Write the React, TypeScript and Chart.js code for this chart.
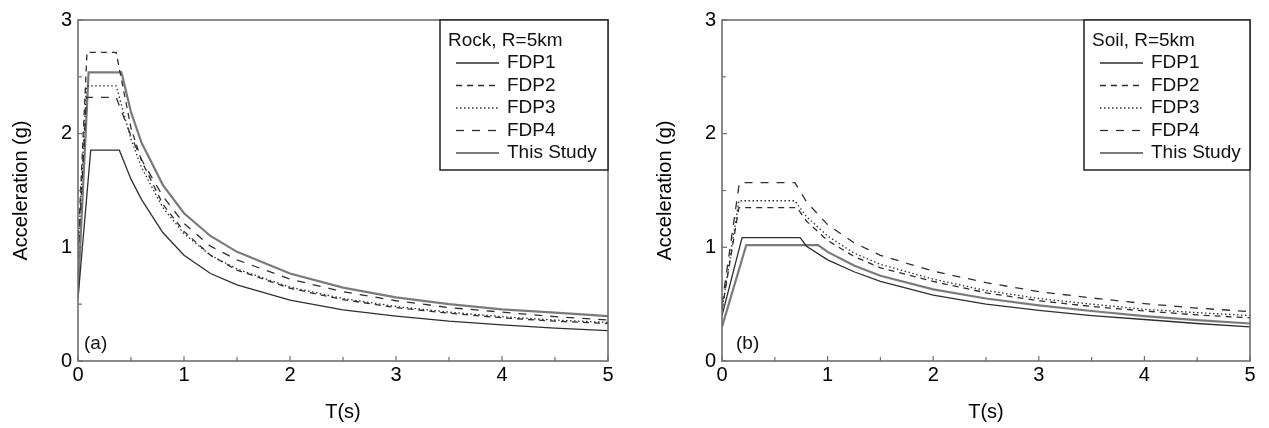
import React, { useEffect, useRef } from "react";
import { Chart, registerables } from "chart.js";

Chart.register(...registerables);

const FONT = "'Liberation Sans', Arial, sans-serif";

// ---------- Data (T in s, spectral acceleration in g) ----------
// Panel (a) Rock, R=5km
const rockFDP1T = [0, 0.12, 0.39, 0.5, 0.6, 0.8, 1, 1.25, 1.5, 2, 2.5, 3, 3.5, 4, 4.5, 5];
const rockFDP1A = [0.55, 1.855, 1.855, 1.6, 1.42, 1.13, 0.93, 0.77, 0.67, 0.535, 0.45, 0.395, 0.35, 0.317, 0.29, 0.267];
const rockFDP2T = [0, 0.085, 0.36, 0.5, 0.6, 0.8, 1, 1.25, 1.5, 2, 2.5, 3, 3.5, 4, 4.5, 5];
const rockFDP2A = [1.0, 2.715, 2.715, 2.05, 1.76, 1.38, 1.14, 0.93, 0.8, 0.64, 0.54, 0.47, 0.42, 0.38, 0.35, 0.33];
const rockFDP3T = [0, 0.08, 0.36, 0.5, 0.6, 0.8, 1, 1.25, 1.5, 2, 2.5, 3, 3.5, 4, 4.5, 5];
const rockFDP3A = [0.95, 2.42, 2.42, 1.95, 1.7, 1.35, 1.12, 0.93, 0.81, 0.65, 0.55, 0.48, 0.43, 0.39, 0.36, 0.34];
const rockFDP4T = [0, 0.08, 0.36, 0.5, 0.6, 0.8, 1, 1.25, 1.5, 2, 2.5, 3, 3.5, 4, 4.5, 5];
const rockFDP4A = [0.9, 2.32, 2.32, 1.98, 1.77, 1.45, 1.21, 1.01, 0.89, 0.72, 0.61, 0.53, 0.47, 0.43, 0.39, 0.36];
const rockStudyT = [0, 0.1, 0.41, 0.5, 0.6, 0.8, 1, 1.25, 1.5, 2, 2.5, 3, 3.5, 4, 4.5, 5];
const rockStudyA = [0.6, 2.54, 2.54, 2.19, 1.92, 1.55, 1.3, 1.1, 0.96, 0.77, 0.645, 0.56, 0.5, 0.455, 0.425, 0.395];

// Panel (b) Soil, R=5km
const soilFDP1T = [0, 0.19, 0.74, 0.8, 1, 1.25, 1.5, 2, 2.5, 3, 3.5, 4, 4.5, 5];
const soilFDP1A = [0.4, 1.085, 1.085, 1.01, 0.89, 0.785, 0.7, 0.58, 0.5, 0.445, 0.4, 0.365, 0.33, 0.3];
const soilFDP2T = [0, 0.16, 0.71, 0.8, 1, 1.25, 1.5, 2, 2.5, 3, 3.5, 4, 4.5, 5];
const soilFDP2A = [0.45, 1.35, 1.35, 1.23, 1.06, 0.92, 0.82, 0.7, 0.6, 0.53, 0.48, 0.44, 0.405, 0.38];
const soilFDP3T = [0, 0.16, 0.69, 0.8, 1, 1.25, 1.5, 2, 2.5, 3, 3.5, 4, 4.5, 5];
const soilFDP3A = [0.45, 1.41, 1.41, 1.27, 1.1, 0.95, 0.85, 0.72, 0.62, 0.55, 0.5, 0.455, 0.425, 0.4];
const soilFDP4T = [0, 0.165, 0.69, 0.8, 1, 1.25, 1.5, 2, 2.5, 3, 3.5, 4, 4.5, 5];
const soilFDP4A = [0.5, 1.57, 1.57, 1.4, 1.2, 1.04, 0.93, 0.79, 0.69, 0.61, 0.555, 0.505, 0.465, 0.435];
const soilStudyT = [0, 0.23, 0.91, 1, 1.25, 1.5, 2, 2.5, 3, 3.5, 4, 4.5, 5];
const soilStudyA = [0.3, 1.02, 1.02, 0.96, 0.84, 0.75, 0.63, 0.55, 0.49, 0.44, 0.395, 0.36, 0.33];

const seriesNames = ["FDP1", "FDP2", "FDP3", "FDP4", "This Study"];
const xTicks = [0, 1, 2, 3, 4, 5];
const yTicks = [0, 1, 2, 3];

// ---------- Styles ----------
const lineColors = ["#2e2e2e", "#2e2e2e", "#2e2e2e", "#2e2e2e", "#7a7a7a"];
const lineWidths = [1.3, 1.3, 1.3, 1.3, 2.2];
const lineDashes: number[][] = [[], [6, 5], [1.5, 2.5], [8, 8], []];

type Series = { t: number[]; a: number[] };

const rockSeries: Series[] = [
  { t: rockFDP1T, a: rockFDP1A },
  { t: rockFDP2T, a: rockFDP2A },
  { t: rockFDP3T, a: rockFDP3A },
  { t: rockFDP4T, a: rockFDP4A },
  { t: rockStudyT, a: rockStudyA },
];
const soilSeries: Series[] = [
  { t: soilFDP1T, a: soilFDP1A },
  { t: soilFDP2T, a: soilFDP2A },
  { t: soilFDP3T, a: soilFDP3A },
  { t: soilFDP4T, a: soilFDP4A },
  { t: soilStudyT, a: soilStudyA },
];

type PanelProps = {
  left: number;
  width: number;
  padRight: number;
  legendTitle: string;
  tag: string;
  tagOffset: number;
  series: Series[];
};

function makeDecor(p: PanelProps) {
  return {
    id: "decor" + p.tag,
    afterDraw(chart: any) {
      const ctx: CanvasRenderingContext2D = chart.ctx;
      const ca = chart.chartArea;
      const xs = chart.scales.x;
      const ys = chart.scales.y;
      ctx.save();
      // frame
      ctx.strokeStyle = "#6e6e6e";
      ctx.lineWidth = 1.6;
      ctx.setLineDash([]);
      ctx.strokeRect(ca.left, ca.top, ca.right - ca.left, ca.bottom - ca.top);
      // inward ticks
      ctx.lineWidth = 1.2;
      for (let v = 0; v <= 5.001; v += 0.5) {
        const px = xs.getPixelForValue(v);
        const len = Math.abs(v - Math.round(v)) < 1e-6 ? 5 : 4;
        ctx.beginPath();
        ctx.moveTo(px, ca.bottom);
        ctx.lineTo(px, ca.bottom - len);
        ctx.stroke();
      }
      for (let v = 0; v <= 3.001; v += 0.5) {
        const py = ys.getPixelForValue(v);
        const len = Math.abs(v - Math.round(v)) < 1e-6 ? 5 : 4;
        ctx.beginPath();
        ctx.moveTo(ca.left, py);
        ctx.lineTo(ca.left + len, py);
        ctx.stroke();
      }
      // panel tag
      ctx.fillStyle = "#111";
      ctx.font = `19px ${FONT}`;
      ctx.textAlign = "left";
      ctx.textBaseline = "middle";
      ctx.fillText(p.tag, ca.left + p.tagOffset, ca.bottom - 17);
      // legend box
      const bx = 440;
      const by = ca.top;
      const bw = ca.right - bx;
      const bh = 150;
      ctx.fillStyle = "#fff";
      ctx.fillRect(bx, by, bw, bh);
      ctx.strokeStyle = "#222";
      ctx.lineWidth = 1.5;
      ctx.strokeRect(bx, by, bw, bh);
      ctx.fillStyle = "#111";
      ctx.font = `19px ${FONT}`;
      ctx.fillText(p.legendTitle, bx + 8, by + 21);
      for (let i = 0; i < seriesNames.length; i++) {
        const yy = by + 43 + i * 22.5;
        ctx.strokeStyle = lineColors[i];
        ctx.lineWidth = lineWidths[i];
        ctx.setLineDash(lineDashes[i]);
        ctx.beginPath();
        ctx.moveTo(bx + 16, yy);
        ctx.lineTo(bx + 59, yy);
        ctx.stroke();
        ctx.setLineDash([]);
        ctx.fillText(seriesNames[i], bx + 67, yy);
      }
      ctx.restore();
    },
  };
}

function Panel(p: PanelProps) {
  const ref = useRef<HTMLCanvasElement>(null);
  useEffect(() => {
    const canvas = ref.current!;
    const chart = new Chart(canvas, {
      type: "line",
      data: {
        datasets: p.series.map((s, i) => ({
          label: seriesNames[i],
          data: s.t.map((t, k) => ({ x: t, y: s.a[k] })),
          borderColor: lineColors[i],
          borderWidth: lineWidths[i],
          borderDash: lineDashes[i],
          pointRadius: 0,
          tension: 0,
          fill: false,
        })),
      },
      options: {
        responsive: false,
        animation: false,
        devicePixelRatio: 1,
        layout: { padding: { left: 0, right: p.padRight, top: 20, bottom: 0 } },
        plugins: { legend: { display: false }, tooltip: { enabled: false } },
        scales: {
          x: {
            type: "linear",
            min: 0,
            max: 5,
            grid: { display: false, drawTicks: false },
            border: { display: false },
            afterFit: (scale: any) => {
              scale.height = 67;
            },
            afterBuildTicks: (scale: any) => {
              scale.ticks = xTicks.map((v) => ({ value: v }));
            },
            ticks: {
              color: "#000",
              padding: 2,
              maxRotation: 0,
              font: { family: FONT, size: 20 },
              callback: (v: any) => String(v),
            },
            title: {
              display: true,
              text: "T(s)",
              color: "#000",
              font: { family: FONT, size: 20 },
              padding: { top: 0, bottom: 4 },
            },
          },
          y: {
            type: "linear",
            min: 0,
            max: 3,
            grid: { display: false, drawTicks: false },
            border: { display: false },
            afterFit: (scale: any) => {
              scale.width = 78;
            },
            afterBuildTicks: (scale: any) => {
              scale.ticks = yTicks.map((v) => ({ value: v }));
            },
            ticks: {
              color: "#000",
              padding: 6,
              font: { family: FONT, size: 20 },
              callback: (v: any) => String(v),
            },
            title: {
              display: true,
              text: "Acceleration (g)",
              color: "#000",
              font: { family: FONT, size: 20 },
              padding: { top: 9, bottom: 0 },
            },
          },
        },
      },
      plugins: [makeDecor(p)],
    } as any);
    return () => chart.destroy();
  }, []);
  return (
    <canvas
      ref={ref}
      width={p.width}
      height={428}
      style={{ position: "absolute", left: p.left, top: 0, width: p.width, height: 428 }}
    />
  );
}

export default function App() {
  return (
    <div
      style={{
        position: "fixed",
        left: 0,
        top: 0,
        width: 1269,
        height: 428,
        background: "#fff",
        overflow: "hidden",
      }}
    >
      <Panel left={0} width={620} padRight={12} legendTitle="Rock, R=5km" tag="(a)" tagOffset={6} series={rockSeries} />
      <Panel left={644} width={625} padRight={19} legendTitle="Soil, R=5km" tag="(b)" tagOffset={14} series={soilSeries} />
    </div>
  );
}
